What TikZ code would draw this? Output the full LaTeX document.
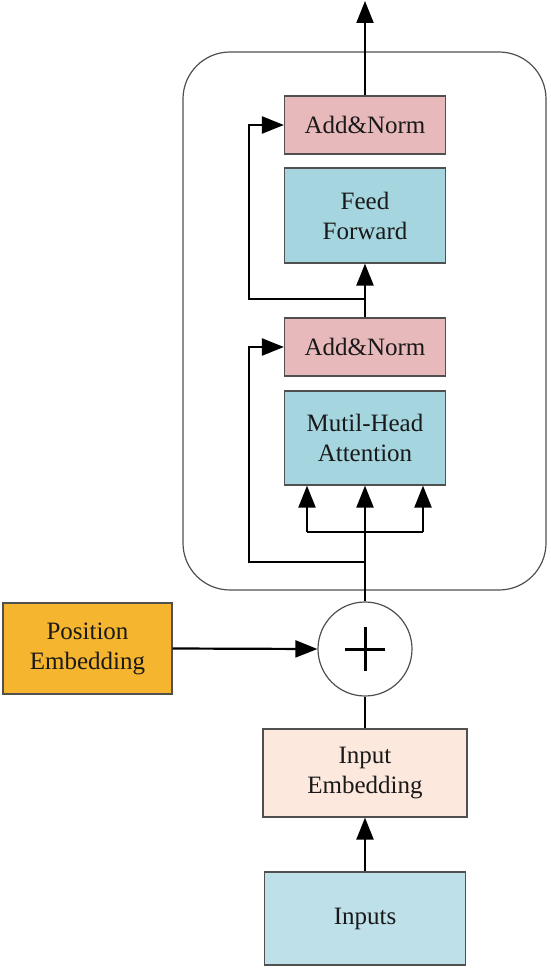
\documentclass[tikz,border=0pt]{standalone}
\usepackage{fontspec}
\setmainfont{Liberation Serif}
\usetikzlibrary{arrows.meta}
\definecolor{normpink}{HTML}{E8B9BA}
\definecolor{ffteal}{HTML}{A5D6E0}
\definecolor{posorange}{HTML}{F5B52E}
\definecolor{embpeach}{HTML}{FCE8DD}
\definecolor{inblue}{HTML}{BEE1E9}
\definecolor{edgegray}{HTML}{505050}
\tikzset{
  blk/.style={draw=edgegray, line width=1.2pt, inner sep=0pt, align=center,
    font=\fontsize{25}{30}\selectfont, text=black!90},
  conn/.style={line width=2.2pt, black},
  arr/.style={conn, -{Triangle[length=22pt,width=17pt]}},
}
\begin{document}
\begin{tikzpicture}[x=1pt,y=-1pt]
\useasboundingbox (0,0) rectangle (550,971);
% outer layer box
\draw[line width=1.2pt, edgegray, rounded corners=47pt] (183,52) rectangle (546,590);
% blocks
\node[blk, fill=normpink, minimum width=161pt, minimum height=58pt] (an2) at (365,125) {Add\&Norm};
\node[blk, fill=ffteal, minimum width=161pt, minimum height=95pt] (ff) at (365,215.5) {Feed\\Forward};
\node[blk, fill=normpink, minimum width=161pt, minimum height=58pt] (an1) at (365,347) {Add\&Norm};
\node[blk, fill=ffteal, minimum width=161pt, minimum height=94pt] (mha) at (365,438) {Mutil-Head\\Attention};
\node[circle, draw=edgegray, line width=1.2pt, fill=white, minimum size=94pt, inner sep=0pt] (plus) at (365,649) {};
\draw[line width=3pt] ([xshift=-20pt]plus.center) -- ([xshift=20pt]plus.center);
\draw[line width=3pt] ([yshift=-22pt]plus.center) -- ([yshift=22pt]plus.center);
\node[blk, fill=posorange, minimum width=169pt, minimum height=91pt] (pos) at (87.5,648.5) {Position\\Embedding};
\node[blk, fill=embpeach, minimum width=204pt, minimum height=88pt] (iemb) at (365,773) {Input\\Embedding};
\node[blk, fill=inblue, minimum width=201pt, minimum height=93pt] (inp) at (365,918.5) {Inputs};
% helper coordinates
\coordinate (out) at (365,1);
\coordinate (s2) at (365,299);
\coordinate (s2l) at (249,299);
\coordinate (s1) at (365,562);
\coordinate (s1l) at (249,562);
\coordinate (br) at (365,532);
\coordinate (brl) at (307,532);
\coordinate (brr) at (423,532);
% connectors
\draw[arr] (an2.north) -- (out);
\draw[arr] (an1.north) -- (ff.south);
\draw[arr] (s2) -- (s2l) |- (an2.west);
\draw[arr] (plus.north) -- (mha.south);
\draw[conn] (brl) -- (brr);
\draw[arr] (brl) -- (brl |- mha.south);
\draw[arr] (brr) -- (brr |- mha.south);
\draw[arr] (s1) -- (s1l) |- (an1.west);
\draw[arr] (pos.east) -- (plus.west);
\draw[conn] (iemb.north) -- (plus.south);
\draw[arr] (inp.north) -- (iemb.south);
\end{tikzpicture}
\end{document}
